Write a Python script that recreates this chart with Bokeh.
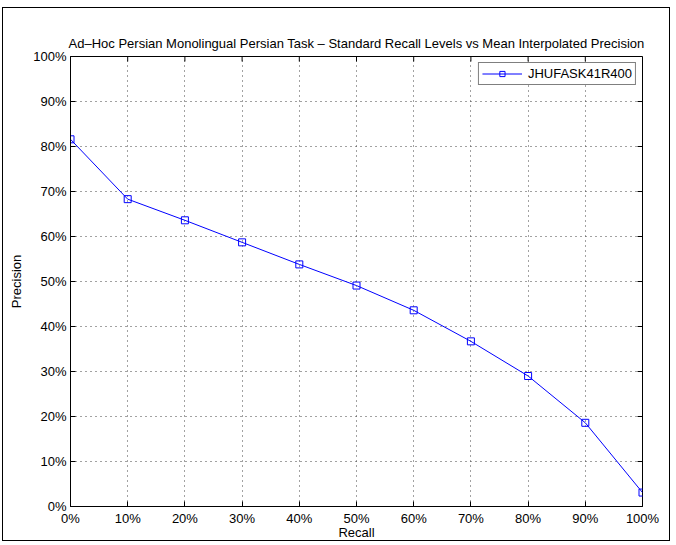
import math
from bokeh.plotting import figure
from bokeh.models import Range1d, FixedTicker, Legend, LegendItem
from bokeh.embed import file_html
from bokeh.resources import INLINE

# Data
recall = [0, 10, 20, 30, 40, 50, 60, 70, 80, 90, 100]
precision = [81.6, 68.3, 63.6, 58.7, 53.8, 49.1, 43.6, 36.7, 29.0, 18.6, 3.1]
series_name = "JHUFASK41R400"
tick_values = [0, 10, 20, 30, 40, 50, 60, 70, 80, 90, 100]
tick_labels = ["0%", "10%", "20%", "30%", "40%", "50%", "60%", "70%", "80%", "90%", "100%"]
title_text = "Ad–Hoc Persian Monolingual Persian Task – Standard Recall Levels vs Mean Interpolated Precision"
x_label = "Recall"
y_label = "Precision"

FONT = "Liberation Sans"
FS = "13px"
X_MIN, X_MAX = 0, 100
Y_MIN, Y_MAX = 0, 100

p = figure(width=668, height=534, output_backend="svg", toolbar_location=None,
           x_range=Range1d(X_MIN, X_MAX), y_range=Range1d(Y_MIN, Y_MAX),
           min_border_left=67, min_border_right=29, min_border_top=48, min_border_bottom=36,
           title=title_text)
p.styles = {"border": "1px solid black", "margin-left": "2px", "margin-top": "7px"}
p.background_fill_color = "white"
p.border_fill_color = "white"
p.outline_line_color = "black"
p.outline_line_width = 1

p.title.align = "center"
p.title.text_font = FONT
p.title.text_font_size = FS
p.title.text_font_style = "normal"
p.title.text_color = "black"
p.title.standoff = 12

labels_map = {v: l for v, l in zip(tick_values, tick_labels)}
for ax in (p.xaxis[0], p.yaxis[0]):
    ax.ticker = FixedTicker(ticks=tick_values)
    ax.major_label_overrides = labels_map
    ax.major_label_text_font = FONT
    ax.major_label_text_font_size = FS
    ax.major_label_text_color = "black"
    ax.axis_label_text_font = FONT
    ax.axis_label_text_font_size = FS
    ax.axis_label_text_font_style = "normal"
    ax.axis_label_text_color = "black"
    ax.major_tick_in = 5
    ax.major_tick_out = 0
    ax.minor_tick_in = 0
    ax.minor_tick_out = 0
    ax.axis_line_color = "black"
    ax.major_tick_line_color = "black"

p.xaxis.axis_label = x_label
p.yaxis.axis_label = y_label
p.xaxis.major_label_standoff = 4
p.xaxis.axis_label_standoff = -4
p.yaxis.major_label_standoff = 4
p.yaxis.axis_label_standoff = 6

for g in (p.xgrid[0], p.ygrid[0]):
    g.ticker = FixedTicker(ticks=tick_values)
    g.grid_line_color = "#444444"
    g.grid_line_dash = "1 4"
    g.grid_line_width = 1

# inward ticks on the top and right edges of the box (MATLAB style)
p.ray(x=tick_values, y=[Y_MAX] * len(tick_values), length=5, length_units="screen",
      angle=-math.pi / 2, line_color="black", line_width=1)
p.ray(x=[X_MAX] * len(tick_values), y=tick_values, length=5, length_units="screen",
      angle=math.pi, line_color="black", line_width=1)

line = p.line(recall, precision, line_color="#0000ff", line_width=1)
pts = p.scatter(recall, precision, marker="square", size=7, fill_color=None,
                line_color="#0000ff", line_width=1)

legend = Legend(items=[LegendItem(label=series_name, renderers=[line, pts])],
                location="top_right")
legend.label_text_font = FONT
legend.label_text_font_size = FS
legend.label_text_color = "black"
legend.border_line_color = "black"
legend.border_line_width = 1
legend.background_fill_color = "white"
legend.background_fill_alpha = 1
legend.glyph_width = 40
legend.glyph_height = 13
legend.padding = 3
legend.margin = 6
legend.spacing = 0
legend.label_standoff = 6
legend.label_height = 13
p.add_layout(legend)

open("out.html", "w").write(file_html(p, INLINE))
